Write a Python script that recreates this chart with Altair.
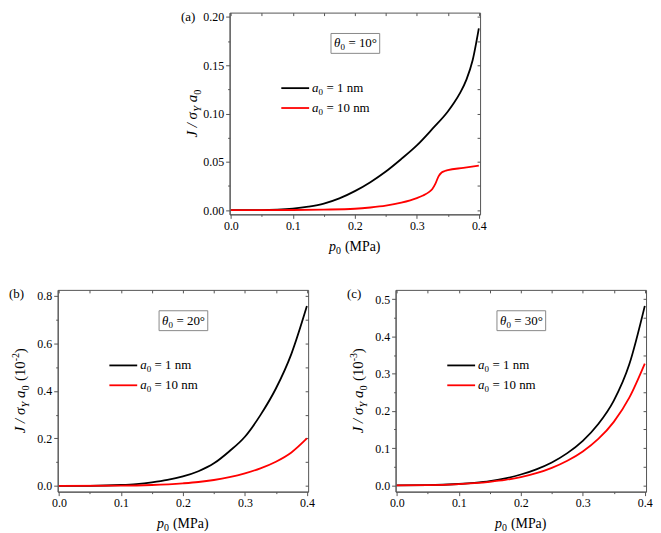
import altair as alt
import pandas as pd

# ---------------- data ----------------
SERIES = ["a0 = 1 nm", "a0 = 10 nm"]

# panel (a) theta0 = 10 deg
pa_black = [0, 0.05, 0.075, 0.1, 0.125, 0.15, 0.175, 0.2, 0.225, 0.25, 0.275, 0.3, 0.325, 0.35, 0.36, 0.37, 0.38, 0.39, 0.4]
ja_black = [0, 0.0001, 0.0006, 0.0017, 0.0037, 0.0068, 0.0122, 0.0197, 0.029, 0.040, 0.053, 0.067, 0.084, 0.102, 0.111, 0.1215, 0.135, 0.155, 0.188]
pa_red = [0, 0.1, 0.15, 0.2, 0.225, 0.25, 0.275, 0.3, 0.31, 0.32, 0.325, 0.33, 0.335, 0.34, 0.345, 0.35, 0.375, 0.4]
ja_red = [0, 0.0002, 0.0006, 0.0015, 0.0028, 0.0047, 0.0078, 0.0125, 0.0152, 0.019, 0.022, 0.0275, 0.035, 0.039, 0.0405, 0.0415, 0.0437, 0.046]

# panel (b) theta0 = 20 deg  (units 1e-2)
pb_black = [0, 0.05, 0.1, 0.125, 0.15, 0.175, 0.2, 0.225, 0.25, 0.275, 0.3, 0.325, 0.35, 0.375, 0.4]
jb_black = [0, 0.0005, 0.004, 0.008, 0.015, 0.025, 0.040, 0.062, 0.095, 0.146, 0.207, 0.298, 0.410, 0.556, 0.757]
pb_red = [0, 0.1, 0.15, 0.2, 0.225, 0.25, 0.275, 0.3, 0.325, 0.35, 0.375, 0.4]
jb_red = [0, 0.001, 0.004, 0.011, 0.0165, 0.025, 0.037, 0.053, 0.074, 0.102, 0.141, 0.2]

# panel (c) theta0 = 30 deg  (units 1e-3)
pc_black = [0, 0.05, 0.1, 0.125, 0.15, 0.175, 0.2, 0.225, 0.25, 0.275, 0.3, 0.325, 0.35, 0.375, 0.4]
jc_black = [0, 0.0004, 0.0035, 0.0065, 0.011, 0.0185, 0.029, 0.043, 0.0615, 0.0865, 0.1195, 0.1645, 0.2275, 0.325, 0.482]
pc_red = [0, 0.05, 0.1, 0.125, 0.15, 0.175, 0.2, 0.225, 0.25, 0.275, 0.3, 0.325, 0.35, 0.375, 0.4]
jc_red = [0, 0.0004, 0.003, 0.0058, 0.0095, 0.0145, 0.022, 0.0325, 0.047, 0.066, 0.091, 0.1245, 0.1705, 0.2355, 0.327]

X_TICKS = [0, 0.05, 0.1, 0.15, 0.2, 0.25, 0.3, 0.35, 0.4]
YA_TICKS = [0, 0.025, 0.05, 0.075, 0.1, 0.125, 0.15, 0.175, 0.2]
YB_TICKS = [0, 0.1, 0.2, 0.3, 0.4, 0.5, 0.6, 0.7, 0.8]
YC_TICKS = [0, 0.05, 0.1, 0.15, 0.2, 0.25, 0.3, 0.35, 0.4, 0.45, 0.5]

# ---------------- styling ----------------
FONT = "Liberation Serif"
AX = "#555555"
W, H = 252, 203
ONE = pd.DataFrame({"k": [0]})


def frame(pb, jb, pr, jr):
    rows = [{"p": p, "J": j, "series": SERIES[0]} for p, j in zip(pb, jb)]
    rows += [{"p": p, "J": j, "series": SERIES[1]} for p, j in zip(pr, jr)]
    return pd.DataFrame(rows)


def test(k):
    return f"abs(datum.value*{k} - round(datum.value*{k})) < 1e-6"


def txt(s, x, y, size=13, style="normal", align="left", baseline="middle", angle=0):
    return alt.Chart(ONE).mark_text(
        text=s, font=FONT, fontSize=size, fontStyle=style, align=align,
        baseline=baseline, angle=angle, color="black"
    ).encode(x=alt.value(x), y=alt.value(y))


def ytitle(pieces, xbase):
    # pieces: (text, size, style, shift, width_px, gap_before)
    total = sum(p[4] + p[5] for p in pieces)
    y = H / 2 + total / 2
    layers = []
    for text, size, style, shift, wpx, gap in pieces:
        y -= gap
        x = xbase + (4 if shift == "sub" else (-6 if shift == "sup" else 0))
        layers.append(txt(text, x, y, size=size, style=style, align="left",
                          baseline="alphabetic", angle=270))
        y -= wpx
    return layers


def panel(df, ydom, yticks, yfmt, ymajor, theta, label, extra):
    xsc = alt.Scale(domain=[-0.002, 0.402], nice=False, zero=False)
    ysc = alt.Scale(domain=ydom, nice=False, zero=False)
    xt = test(10)
    yt = test(ymajor)
    lines = alt.Chart(df).mark_line(strokeWidth=1.8, interpolate="monotone").encode(
        x=alt.X("p:Q", scale=xsc, axis=alt.Axis(
            orient="bottom", values=X_TICKS, format=".1f",
            labelExpr=f"{xt} ? datum.label : ''",
            tickSize={"condition": {"test": xt, "value": 4}, "value": 2},
            title=None, labelFont=FONT, labelFontSize=12, labelColor="black",
            domainColor=AX, tickColor=AX, labelPadding=2, grid=False,
            labelFlush=False, labelOverlap=False)),
        y=alt.Y("J:Q", scale=ysc, axis=alt.Axis(
            orient="left", values=yticks, format=yfmt,
            labelExpr=f"{yt} ? datum.label : ''",
            tickSize={"condition": {"test": yt, "value": 4}, "value": 2},
            title=None, labelFont=FONT, labelFontSize=12, labelColor="black",
            domainColor=AX, tickColor=AX, labelPadding=2, grid=False,
            labelFlush=False, labelOverlap=False)),
        color=alt.Color("series:N", scale=alt.Scale(domain=SERIES, range=["#000000", "#ff0000"]), legend=None),
    )
    mirror = alt.Chart(df).mark_line(opacity=0).encode(
        x=alt.X("p:Q", axis=alt.Axis(orient="top", values=X_TICKS, labels=False, title=None,
                                     domain=False, tickSize=3, offset=-3, tickColor=AX, grid=False)),
        y=alt.Y("J:Q", axis=alt.Axis(orient="right", values=yticks, labels=False, title=None,
                                     domain=False, tickSize=3, offset=-3, tickColor=AX, grid=False)),
        detail="series:N",
    )
    box = alt.Chart(ONE).mark_rect(fill="white", stroke="#888888", strokeWidth=1).encode(
        x=alt.value(102), x2=alt.value(151), y=alt.value(21), y2=alt.value(41))
    layers = [lines, mirror, box,
              txt("θ", 105, 35, size=13, style="italic", baseline="alphabetic"),
              txt("0", 111.5, 38, size=9, baseline="alphabetic"),
              txt(f"= {theta}°", 119.5, 35, size=13, baseline="alphabetic"),
              txt(label, -49, 4, size=13)]
    # legend
    for yy, col, lab in [(76, "#000000", "= 1 nm"), (96, "#ff0000", "= 10 nm")]:
        layers.append(alt.Chart(ONE).mark_rule(color=col, strokeWidth=1.8).encode(
            x=alt.value(52), x2=alt.value(80), y=alt.value(yy)))
        layers.append(txt("a", 83, yy + 4, size=13, style="italic", baseline="alphabetic"))
        layers.append(txt("0", 89.5, yy + 7, size=9, baseline="alphabetic"))
        layers.append(txt(lab, 97.5, yy + 4, size=13, baseline="alphabetic"))
    # x title  p0 (MPa)
    layers += [txt("p", W / 2 - 26, H + 37, size=14, style="italic", baseline="alphabetic"),
               txt("0", W / 2 - 19, H + 40, size=10, baseline="alphabetic"),
               txt("(MPa)", W / 2 - 10, H + 37, size=14, baseline="alphabetic")]
    # y title  J / sigma_Y a_0 (10^-n)
    pieces = [("J / σ", 15, "italic", "base", 26.0, 0),
              ("Y", 10.5, "italic", "sub", 6.0, 0),
              ("a", 15, "italic", "base", 7.5, 3.5),
              ("0", 10.5, "normal", "sub", 5.5, 0)]
    if extra:
        pieces += [("(10", 15, "normal", "base", 20.0, 4.0),
                   (extra, 10, "normal", "sup", 8.0, 0),
                   (")", 15, "normal", "base", 5.0, 0)]
    layers += ytitle(pieces, -33)
    return alt.layer(*layers).resolve_axis(x="independent", y="independent").properties(
        width=W, height=H)


A = panel(frame(pa_black, ja_black, pa_red, ja_red), [-0.0043, 0.2043], YA_TICKS, ".2f", 20, "10", "(a)", None)
B = panel(frame(pb_black, jb_black, pb_red, jb_red), [-0.024, 0.825], YB_TICKS, ".1f", 5, "20", "(b)", "-2")
C = panel(frame(pc_black, jc_black, pc_red, jc_red), [-0.017, 0.525], YC_TICKS, ".1f", 10, "30", "(c)", "-3")

spacer = alt.Chart(ONE).mark_point(opacity=0, size=1).encode(
    x=alt.value(60), y=alt.value(5)).properties(
    width=122, height=10, view=alt.ViewBackground(stroke="transparent"))

top = alt.hconcat(spacer, A, spacing=0)
bottom = alt.hconcat(B, C, spacing=31)
chart = alt.vconcat(top, bottom, spacing=30).configure_view(stroke=AX, strokeWidth=1).properties(
    background="white", padding=0)

chart.save("out.html", embed_options={"renderer": "svg", "actions": False})
